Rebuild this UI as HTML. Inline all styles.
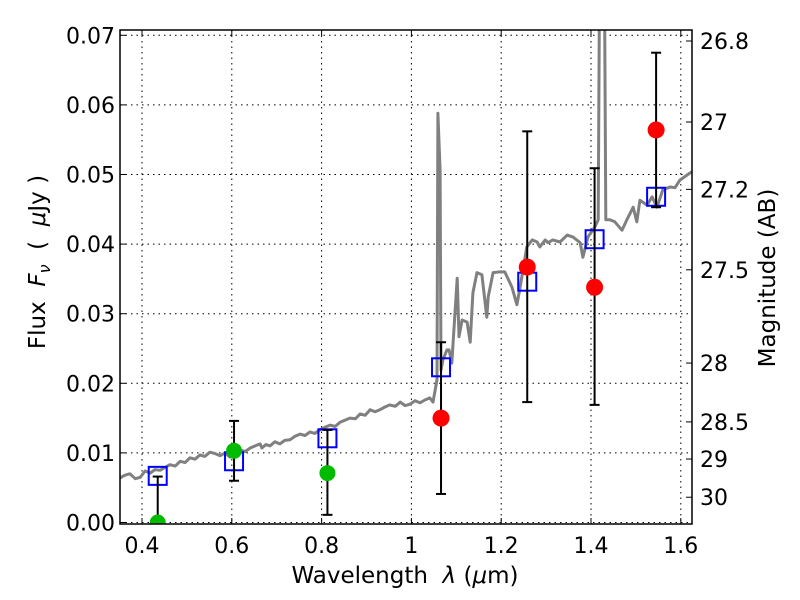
<!DOCTYPE html>
<html><head><meta charset="utf-8">
<style>
html,body{margin:0;padding:0;background:#fff;}
svg{display:block;font-family:"DejaVu Sans","Liberation Sans",sans-serif;}
</style></head>
<body>
<svg id="chart" width="800" height="600" viewBox="0 0 800 600" xmlns="http://www.w3.org/2000/svg">
<defs><clipPath id="plotclip"><rect x="120" y="30" width="572" height="494"/></clipPath></defs>
<rect x="0" y="0" width="800" height="600" fill="#fff"/>
<g id="grid"></g>
<g id="marks" clip-path="url(#plotclip)"></g>
<rect x="120" y="30" width="572" height="494" fill="none" stroke="#000" stroke-width="1.5"/>
<g id="axes"></g>
<text x="405" y="583" font-size="23" text-anchor="middle">Wavelength&#160;&#160;<tspan font-style="italic">λ</tspan>&#160;(<tspan font-style="italic">μ</tspan>m)</text>
<text transform="translate(45,262) rotate(-90)" font-size="23" text-anchor="middle">Flux&#160;&#160;<tspan font-style="italic">F</tspan><tspan font-style="italic" font-size="16" dy="5">ν</tspan><tspan dy="-5">&#160;&#160;(&#160;&#160;<tspan font-style="italic">μ</tspan>Jy&#160;)</tspan></text>
<text transform="translate(775,278) rotate(-90)" font-size="23" text-anchor="middle">Magnitude (AB)</text>
</svg>
<script>
const xTicks = [0.4, 0.6, 0.8, 1.0, 1.2, 1.4, 1.6];
const xTickLabels = ["0.4", "0.6", "0.8", "1", "1.2", "1.4", "1.6"];
const yTicks = [0, 0.01, 0.02, 0.03, 0.04, 0.05, 0.06, 0.07];
const yTickLabels = ["0.00", "0.01", "0.02", "0.03", "0.04", "0.05", "0.06", "0.07"];
const magTicks = [26.8, 27, 27.2, 27.5, 28, 28.5, 29, 30];
const magTickLabels = ["26.8", "27", "27.2", "27.5", "28", "28.5", "29", "30"];
const specWave = [0.351,0.362,0.373,0.385,0.396,0.407,0.418,0.429,0.440,0.451,0.462,0.474,0.485,0.496,0.507,0.518,0.529,0.540,0.551,0.563,0.574,0.585,0.596,0.607,0.618,0.630,0.641,0.652,0.663,0.667,0.676,0.685,0.696,0.707,0.718,0.730,0.741,0.752,0.763,0.774,0.785,0.796,0.808,0.819,0.830,0.841,0.852,0.863,0.875,0.886,0.897,0.908,0.919,0.930,0.941,0.952,0.964,0.975,0.986,0.997,1.008,1.019,1.030,1.041,1.048,1.057,1.059,1.064,1.066,1.070,1.079,1.084,1.090,1.102,1.106,1.113,1.124,1.131,1.137,1.146,1.157,1.168,1.171,1.182,1.197,1.208,1.224,1.235,1.242,1.257,1.269,1.280,1.286,1.298,1.304,1.315,1.331,1.347,1.360,1.376,1.382,1.393,1.409,1.416,1.420,1.429,1.433,1.442,1.453,1.469,1.480,1.494,1.502,1.509,1.525,1.536,1.547,1.560,1.576,1.587,1.598,1.620,1.640];
const specFlux = [0.0064,0.0068,0.0070,0.0063,0.0065,0.0074,0.0071,0.0076,0.0075,0.0079,0.0083,0.0081,0.0088,0.0086,0.0093,0.0091,0.0097,0.0095,0.0101,0.0099,0.0096,0.0100,0.0094,0.0101,0.0104,0.0102,0.0107,0.0110,0.0113,0.0107,0.0112,0.0110,0.0116,0.0113,0.0118,0.0119,0.0124,0.0127,0.0125,0.0130,0.0128,0.0133,0.0137,0.0140,0.0138,0.0144,0.0147,0.0150,0.0149,0.0156,0.0154,0.0162,0.0159,0.0162,0.0166,0.0169,0.0167,0.0173,0.0168,0.0170,0.0175,0.0172,0.0176,0.0179,0.0173,0.0205,0.0588,0.0506,0.0219,0.0233,0.0248,0.0248,0.0229,0.0351,0.0267,0.0291,0.0288,0.0259,0.0330,0.0359,0.0356,0.0295,0.0324,0.0359,0.0360,0.0360,0.0338,0.0313,0.0338,0.0396,0.0406,0.0403,0.0396,0.0406,0.0402,0.0406,0.0403,0.0413,0.0410,0.0402,0.0381,0.0410,0.0425,0.0435,0.0900,0.0900,0.0435,0.0435,0.0432,0.0420,0.0435,0.0453,0.0432,0.0463,0.0456,0.0468,0.0453,0.0478,0.0482,0.0481,0.0492,0.0502,0.0510];
const bandWave = [0.435, 0.605, 0.813, 1.066, 1.258, 1.408, 1.545];
const modelFlux = [0.0067, 0.0088, 0.0121, 0.0223, 0.0346, 0.0407, 0.0468];
const errLow = [0.0000, 0.0060, 0.0011, 0.0041, 0.0173, 0.0169, 0.0453];
const errHigh = [0.0066, 0.0146, 0.0133, 0.0259, 0.0562, 0.0509, 0.0675];
const greenWave = [0.435, 0.605, 0.813];
const greenFlux = [0.0000, 0.0103, 0.0071];
const redWave = [1.066, 1.258, 1.408, 1.545];
const redFlux = [0.0150, 0.0367, 0.0338, 0.0564];

const NS = "http://www.w3.org/2000/svg";
const X0 = 120, X1 = 692, Y0 = 30, Y1 = 524;
function xs(v){ return 142 + (v - 0.4) * 449; }
function ys(v){ return 522.5 - v * 6960; }
function magToFlux(m){ return Math.pow(10, (23.9 - m) / 2.5); }
function mk(tag, attrs, parent){
  const e = document.createElementNS(NS, tag);
  for (const k in attrs) e.setAttribute(k, attrs[k]);
  parent.appendChild(e);
  return e;
}
const grid = document.getElementById('grid');
const marks = document.getElementById('marks');
const axes = document.getElementById('axes');

xTicks.forEach((t, i) => {
  const x = xs(t);
  const g = mk('line', {x1:x, x2:x, y1:Y0, y2:Y1, stroke:'#000', 'stroke-width':1, 'stroke-dasharray':'1.5,4'}, grid);
  
  
  mk('line', {x1:x, x2:x, y1:Y1, y2:Y1-6, stroke:'#000', 'stroke-width':1}, axes);
  mk('line', {x1:x, x2:x, y1:Y0, y2:Y0+6, stroke:'#000', 'stroke-width':1}, axes);
  const l = mk('text', {x:x, y:553, 'font-size':22, 'text-anchor':'middle'}, axes);
  l.textContent = xTickLabels[i];
  
  
});
yTicks.forEach((t, i) => {
  const y = ys(t);
  const g = mk('line', {x1:X0, x2:X1, y1:y, y2:y, stroke:'#000', 'stroke-width':1, 'stroke-dasharray':'1.5,4'}, grid);
  
  
  mk('line', {x1:X0, x2:X0+6, y1:y, y2:y, stroke:'#000', 'stroke-width':1}, axes);
  const l = mk('text', {x:115, y:y+8, 'font-size':22, 'text-anchor':'end'}, axes);
  l.textContent = yTickLabels[i];
  
  
});
magTicks.forEach((m, i) => {
  const y = ys(magToFlux(m));
  mk('line', {x1:X1, x2:X1-6, y1:y, y2:y, stroke:'#000', 'stroke-width':1}, axes);
  const l = mk('text', {x:700, y:y+8, 'font-size':22, 'text-anchor':'start'}, axes);
  l.textContent = magTickLabels[i];
  
  
});

let d = '';
specWave.forEach((w, i) => { d += (i ? 'L' : 'M') + xs(w).toFixed(1) + ',' + ys(specFlux[i]).toFixed(1); });
const sp = mk('path', {d:d, fill:'none', stroke:'#808080', 'stroke-width':3, 'stroke-linejoin':'round'}, marks);



bandWave.forEach((w, i) => {
  const s = mk('rect', {x:xs(w)-9, y:ys(modelFlux[i])-9, width:18, height:18, fill:'none', stroke:'#0000ff', 'stroke-width':2}, marks);
  
  
});
bandWave.forEach((w, i) => {
  const x = xs(w), a = ys(errLow[i]), b = ys(errHigh[i]);
  const e = mk('g', {}, marks);
  
  
  mk('line', {x1:x, x2:x, y1:a, y2:b, stroke:'#000', 'stroke-width':2}, e);
  mk('line', {x1:x-5, x2:x+5, y1:a, y2:a, stroke:'#000', 'stroke-width':2}, e);
  mk('line', {x1:x-5, x2:x+5, y1:b, y2:b, stroke:'#000', 'stroke-width':2}, e);
});
greenWave.forEach((w, i) => {
  const c = mk('circle', {cx:xs(w), cy:ys(greenFlux[i]), r:8, fill:'#00bb00'}, marks);
  
  
});
redWave.forEach((w, i) => {
  const c = mk('circle', {cx:xs(w), cy:ys(redFlux[i]), r:8.5, fill:'#ff0000'}, marks);
  
  
});
</script>
</body></html>
